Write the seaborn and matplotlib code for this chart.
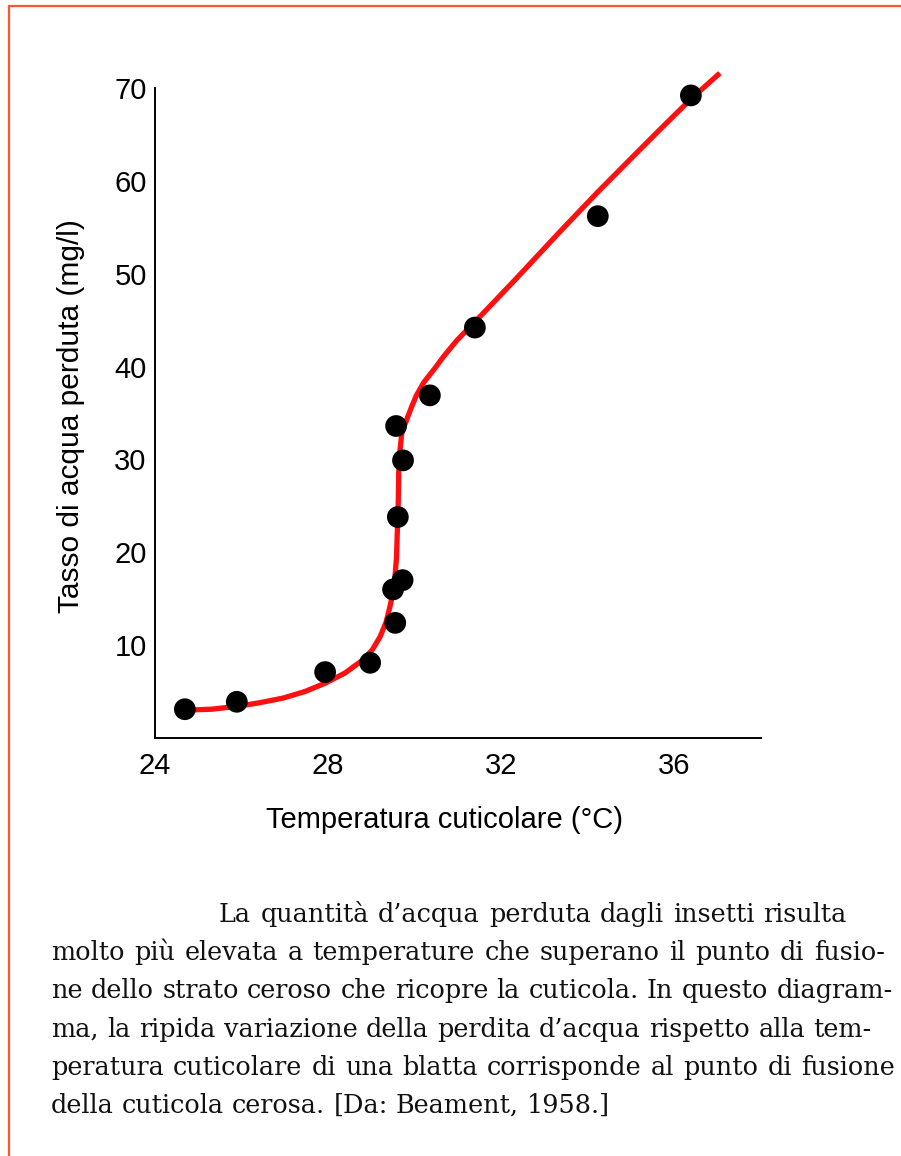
import matplotlib
matplotlib.use("Agg")
import matplotlib.pyplot as plt
import seaborn as sns
import pandas as pd
from matplotlib.lines import Line2D

# ---------------- data ----------------
temp_points = [24.69, 25.89, 27.93, 28.97, 29.55, 29.50, 29.72, 29.61, 29.73, 29.57, 30.35, 31.39, 34.23, 36.38]
loss_points = [3.1, 3.9, 7.1, 8.1, 12.4, 16.0, 17.0, 23.8, 29.9, 33.6, 36.9, 44.2, 56.2, 69.2]

curve_temp = [24.69, 25.30, 25.89, 26.42, 26.96, 27.46, 27.93, 28.39, 28.80, 29.02,
              29.20, 29.34, 29.43, 29.50, 29.54, 29.58, 29.60, 29.62, 29.63, 29.66,
              29.70, 29.76, 29.84, 29.94, 30.04, 30.21, 30.43, 30.67, 30.97, 31.43,
              31.88, 32.35, 32.85, 33.35, 33.82, 34.23, 34.89, 35.66, 36.40, 37.05]
curve_loss = [3.0, 3.1, 3.4, 3.8, 4.3, 5.0, 5.9, 7.0, 8.4, 9.5,
              10.9, 12.5, 14.2, 15.7, 17.1, 19.5, 22.5, 25.5, 28.6, 31.0,
              32.8, 33.6, 34.6, 35.8, 36.9, 38.3, 39.6, 41.1, 42.8, 45.0,
              47.2, 49.5, 52.0, 54.5, 56.8, 58.8, 61.9, 65.5, 68.9, 71.6]

x_major = [24, 28, 32, 36]
x_minor = [26, 30, 34, 38]
y_ticks = [10, 20, 30, 40, 50, 60, 70]

x_label = "Temperatura cuticolare (°C)"
y_label = "Tasso di acqua perduta (mg/l)"

caption_lines = [
    "La quantità d’acqua perduta dagli insetti risulta",
    "molto più elevata a temperature che superano il punto di fusio-",
    "ne dello strato ceroso che ricopre la cuticola. In questo diagram-",
    "ma, la ripida variazione della perdita d’acqua rispetto alla tem-",
    "peratura cuticolare di una blatta corrisponde al punto di fusione",
    "della cuticola cerosa. [Da: Beament, 1958.]",
]

# ---------------- figure ----------------
sns.set_theme(style="white")
plt.rcParams["font.family"] = ["Liberation Sans", "DejaVu Sans"]

W, H = 901, 1156
fig = plt.figure(figsize=(W / 100, H / 100), dpi=100)
fig.patch.set_facecolor("white")

ax = fig.add_axes([155 / W, 1 - 738 / H, 606 / W, 650 / H])
ax.set_facecolor("white")

pts = pd.DataFrame({"t": temp_points, "v": loss_points})
crv = pd.DataFrame({"t": curve_temp, "v": curve_loss})

sns.lineplot(data=crv, x="t", y="v", ax=ax, sort=False, estimator=None,
             color="#FF0F0F", linewidth=3.8, clip_on=False, zorder=2,
             solid_capstyle="butt", solid_joinstyle="round")
sns.scatterplot(data=pts, x="t", y="v", ax=ax, color="black", s=245,
                edgecolor="none", clip_on=False, zorder=3)

ax.set_xlim(24, 38)
ax.set_ylim(0, 70)
ax.set_xticks(x_major)
ax.set_xticks(x_minor, minor=True)
ax.set_xticklabels([str(v) for v in x_major])
ax.set_yticks(y_ticks)
ax.set_yticklabels([str(v) for v in y_ticks])

for s in ["top", "right"]:
    ax.spines[s].set_visible(False)
for s in ["left", "bottom"]:
    ax.spines[s].set_color("black")
    ax.spines[s].set_linewidth(1.4)

ax.tick_params(axis="both", which="both", direction="in", length=14, width=1.2,
               colors="black", labelsize=21, pad=8)
ax.tick_params(axis="x", which="major", pad=10)
ax.tick_params(axis="y", which="major", pad=6)

ax.set_xlabel(x_label, fontsize=21, color="black")
ax.set_ylabel(y_label, fontsize=21.5, color="black")
ax.xaxis.set_label_coords((444 - 155) / 606, (738 - 820) / 650)
ax.xaxis.label.set_verticalalignment("center")
ax.yaxis.set_label_coords((71 - 155) / 606, (738 - 416) / 650)
ax.yaxis.label.set_verticalalignment("center")

# ---------------- page border (left and top rules) ----------------
border_col = "#FF5530"
fig.add_artist(Line2D([9 / W, 9 / W], [0, 1 - 6 / H], color=border_col, lw=1.6,
                      transform=fig.transFigure))
fig.add_artist(Line2D([9 / W, 1], [1 - 6 / H, 1 - 6 / H], color=border_col, lw=1.6,
                      transform=fig.transFigure))

# ---------------- justified caption ----------------
serif = ["DejaVu Serif"]
fs = 18.4
renderer = fig.canvas.get_renderer()
baselines = [922, 960, 998, 1037, 1075, 1113]
lefts = [219, 51, 51, 51, 51, 51]
rights = [847, 885, 893, 872, 895, None]

probe1 = fig.text(0, 0, "n n", fontsize=fs, family=serif)
probe2 = fig.text(0, 0, "nn", fontsize=fs, family=serif)
space_w = probe1.get_window_extent(renderer).width - probe2.get_window_extent(renderer).width
probe1.remove()
probe2.remove()

for line, yb, x0, x1 in zip(caption_lines, baselines, lefts, rights):
    words = line.split(" ")
    ts = [fig.text(0, 1 - yb / H, w, fontsize=fs, family=serif, color="#111111",
                   va="baseline", ha="left") for w in words]
    widths = [t.get_window_extent(renderer).width for t in ts]
    if x1 is not None and len(words) > 1:
        gap = (x1 - x0 - sum(widths)) / (len(words) - 1)
    else:
        gap = space_w
    x = x0
    for t, w in zip(ts, widths):
        t.set_x(x / W)
        x += w + gap

fig.savefig("out.png", dpi=100, facecolor="white")
